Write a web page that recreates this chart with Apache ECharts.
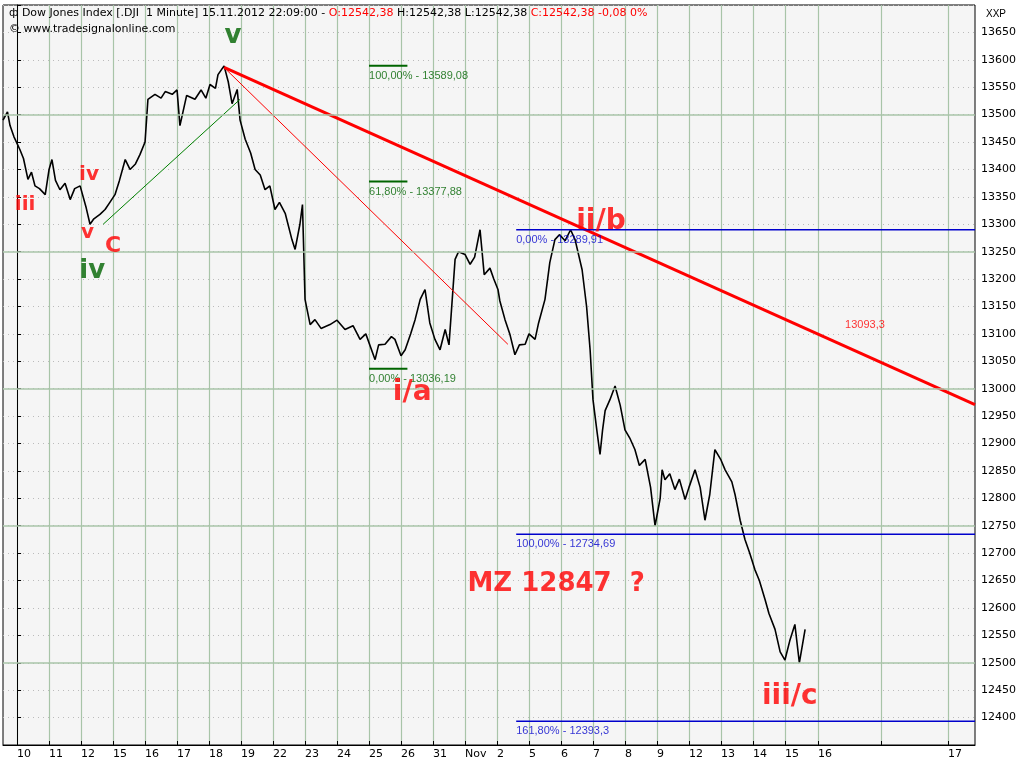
<!DOCTYPE html>
<html>
<head>
<meta charset="utf-8">
<script src="https://cdn.jsdelivr.net/npm/echarts@6/dist/echarts.min.js"></script>
<style>
  html, body { margin: 0; padding: 0; background: #fff; }
  #chart { width: 1024px; height: 768px; }
</style>
</head>
<body>
<div id="chart"></div>
<script>
// Dow Jones 1 Minute, Elliott-Wellen Zählung
// Tagesgrenzen (Tick-Position in Handelstagen) und Beschriftungen
var dayTicks = [0, 1, 2, 3, 4, 5, 6, 7, 8, 9, 10, 11, 12, 13, 14, 15, 16, 17, 18, 19, 20, 21, 22, 23, 24, 25.03, 27.0, 29.1];
var dayLabels = ['10', '11', '12', '15', '16', '17', '18', '19', '22', '23', '24', '25', '26', '31', 'Nov', '2', '5', '6', '7', '8', '9', '12', '13', '14', '15', '16', '', '17'];

// Kursverlauf (Position in Tagen, Kurs)
var pos = [-0.44, -0.3, -0.22, -0.1, 0.09, 0.2, 0.34, 0.45, 0.56, 0.7, 0.88, 1.0, 1.09, 1.2, 1.34, 1.5, 1.66, 1.8, 1.97, 2.16, 2.28, 2.4, 2.59, 2.75, 2.9, 3.06, 3.2, 3.38, 3.53, 3.7, 3.84, 4.0, 4.09, 4.31, 4.5, 4.63, 4.85, 5.0, 5.09, 5.3, 5.56, 5.75, 5.9, 6.03, 6.2, 6.28, 6.47, 6.6, 6.72, 6.88, 6.97, 7.13, 7.3, 7.44, 7.6, 7.75, 7.9, 8.06, 8.2, 8.38, 8.59, 8.69, 8.84, 8.92, 9.00, 9.16, 9.31, 9.5, 9.78, 10.0, 10.25, 10.5, 10.72, 10.9, 11.19, 11.3, 11.50, 11.7, 11.81, 12.0, 12.13, 12.3, 12.44, 12.6, 12.75, 12.9, 13.06, 13.22, 13.38, 13.5, 13.69, 13.8, 14.00, 14.16, 14.3, 14.47, 14.6, 14.78, 14.9, 15.03, 15.09, 15.25, 15.4, 15.56, 15.7, 15.88, 16.0, 16.19, 16.3, 16.50, 16.65, 16.81, 16.95, 17.13, 17.3, 17.44, 17.66, 17.8, 17.91, 18.0, 18.13, 18.22, 18.3, 18.38, 18.53, 18.69, 18.85, 19.00, 19.15, 19.31, 19.45, 19.63, 19.8, 19.94, 20.1, 20.16, 20.25, 20.4, 20.56, 20.7, 20.88, 21.0, 21.19, 21.35, 21.50, 21.65, 21.81, 22.0, 22.13, 22.34, 22.44, 22.6, 22.75, 22.9, 23.06, 23.2, 23.38, 23.5, 23.69, 23.85, 24.00, 24.15, 24.31, 24.45, 24.63, 24.8, 24.94, 25.0, 25.09, 25.16];
var price = [13490, 13505, 13480, 13460, 13436, 13420, 13382, 13395, 13370, 13365, 13354, 13400, 13418, 13380, 13363, 13375, 13345, 13365, 13370, 13330, 13300, 13310, 13318, 13327, 13340, 13354, 13380, 13418, 13400, 13410, 13427, 13450, 13528, 13537, 13530, 13542, 13537, 13545, 13480, 13535, 13528, 13545, 13530, 13555, 13548, 13573, 13589, 13560, 13520, 13546, 13490, 13455, 13430, 13400, 13390, 13363, 13370, 13327, 13340, 13320, 13272, 13254, 13300, 13336, 13163, 13117, 13126, 13110, 13117, 13125, 13108, 13115, 13090, 13100, 13053, 13080, 13081, 13095, 13090, 13060, 13071, 13100, 13126, 13163, 13181, 13120, 13090, 13071, 13108, 13080, 13236, 13250, 13245, 13227, 13240, 13290, 13208, 13220, 13200, 13181, 13160, 13126, 13100, 13062, 13080, 13081, 13100, 13090, 13120, 13163, 13230, 13272, 13281, 13270, 13290, 13272, 13217, 13150, 13071, 12980, 12920, 12880, 12925, 12960, 12980, 13005, 12970, 12925, 12910, 12889, 12860, 12871, 12820, 12750, 12800, 12852, 12834, 12845, 12816, 12835, 12798, 12820, 12852, 12820, 12760, 12807, 12889, 12870, 12852, 12830, 12807, 12760, 12725, 12700, 12670, 12650, 12615, 12590, 12561, 12520, 12505, 12540, 12570, 12500, 12561];
var lastClose = 12542.38;

// Fibonacci-Niveaus
var fibGreen = [13589.08, 13377.88, 13036.19];
var fibGreenText = ['100,00% - 13589,08', '61,80% - 13377,88', '0,00% - 13036,19'];
var fibBlue = [13289.91, 12734.69, 12393.3];
var fibBlueText = ['0,00% - 13289,91', '100,00% - 12734,69', '161,80% - 12393,3'];

// Trendlinien [x1, y1, x2, y2]
var trendMain = [6.47, 13586, 29.94, 12971];
var trendThin = [6.47, 13586, 15.34, 13081];
var trendGreen = [2.69, 13300, 6.97, 13528];

// Wellenbeschriftungen [x, Kurs, Text, Farbe, Größe]
var waves = [
  [0.25, 13336, 'iii', '#f00', 20],
  [2.25, 13391, 'iv', '#f00', 20],
  [2.2, 13285, 'v', '#f00', 20],
  [3.0, 13259, 'C', '#f00', 22],
  [2.35, 13214, 'iv', '#006400', 26],
  [6.75, 13643, 'v', '#006400', 26],
  [18.25, 13305, 'ii/b', '#f00', 28],
  [12.35, 12993, 'i/a', '#f00', 28],
  [24.15, 12438, 'iii/c', '#f00', 28],
  [16.85, 12643, 'MZ 12847  ?', '#f00', 26]
];

var gridLines = [12500, 12750, 13000, 13250, 13500];

var chart = echarts.init(document.getElementById('chart'));

function seg(p, color, w) {
  return {
    type: 'line', data: [[p[0], p[1]], [p[2], p[3]]], symbol: 'none', silent: true,
    lineStyle: { color: color, width: w }, z: 3
  };
}

var series = [];
series.push({
  type: 'line', data: pos.map(function (p, i) { return [p, price[i]]; }), symbol: 'none',
  lineStyle: { color: '#000', width: 1.6 }, z: 2,
  markLine: {
    silent: true, symbol: 'none', label: { show: false },
    lineStyle: { color: '#a8c4a8', type: 'solid', width: 1.5 },
    data: gridLines.map(function (v) { return { yAxis: v }; })
  }
});
series.push(seg(trendThin, '#f00', 1));
series.push(seg(trendGreen, '#008000', 1));
series.push(seg(trendMain, '#f00', 3));

fibGreen.forEach(function (v) {
  series.push({
    type: 'line', data: [[11.0, v], [12.2, v]], symbol: 'none', silent: true,
    lineStyle: { color: '#006400', width: 2 }, z: 4
  });
});
fibBlue.forEach(function (v) {
  series.push({
    type: 'line', data: [[15.6, v], [29.94, v]], symbol: 'none', silent: true,
    lineStyle: { color: '#00c', width: 1.5 }, z: 4
  });
});

var texts = [];
fibGreen.forEach(function (v, i) {
  texts.push({ coord: [11.0, v], text: fibGreenText[i], color: '#006400', size: 11, align: 'left', dy: 10 });
});
fibBlue.forEach(function (v, i) {
  texts.push({ coord: [15.6, v], text: fibBlueText[i], color: '#00c', size: 11, align: 'left', dy: 10 });
});
texts.push({ coord: [26.5, 13116], text: '13093,3', color: '#f00', size: 11, align: 'center', dy: 0 });
waves.forEach(function (w) {
  texts.push({ coord: [w[0], w[1]], text: w[2], color: w[3], size: w[4], align: 'center', dy: 0, bold: true });
});

series.push({
  type: 'scatter', symbolSize: 0, silent: true, z: 6,
  data: texts.map(function (t) {
    return {
      value: t.coord,
      label: {
        show: true, position: 'inside', formatter: t.text, color: t.color,
        fontSize: t.size, fontWeight: t.bold ? 'bold' : 'normal',
        fontFamily: t.bold ? 'DejaVu Sans' : 'Liberation Sans',
        align: t.align, verticalAlign: 'middle', offset: [0, t.dy]
      }
    };
  })
});

chart.setOption({
  animation: false,
  backgroundColor: '#fff',
  title: [
    { text: 'ф Dow Jones Index [.DJI  1 Minute] 15.11.2012 22:09:00 - {r|O:12542,38} H:12542,38 L:12542,38 {r|C:12542,38} {r|-0,08 0%}',
      left: 4, top: 3,
      textStyle: { fontSize: 11, fontWeight: 'normal', color: '#000', fontFamily: 'DejaVu Sans',
        rich: { r: { color: '#f00', fontSize: 11, fontFamily: 'DejaVu Sans' } } } },
    { text: '\u00A9 www.tradesignalonline.com', left: 4, top: 19,
      textStyle: { fontSize: 11, fontWeight: 'normal', color: '#000', fontFamily: 'DejaVu Sans' } },
    { text: 'XXP', left: 981, top: 4, textStyle: { fontSize: 10, fontWeight: 'normal', color: '#000' } }
  ],
  grid: { left: 3, right: 49, top: 5, bottom: 23, show: true, backgroundColor: '#f5f5f5', borderColor: '#000', borderWidth: 1 },
  xAxis: {
    type: 'value', min: -0.44, max: 29.94,
    axisLine: { show: true, lineStyle: { color: '#000' } },
    axisTick: { show: true, customValues: dayTicks, length: 4, inside: true, lineStyle: { color: '#000' } },
    axisLabel: {
      customValues: dayTicks, color: '#000', fontSize: 11, fontFamily: 'DejaVu Sans', align: 'left', margin: 4,
      formatter: function (v) {
        var i = dayTicks.indexOf(v);
        return i >= 0 ? dayLabels[i] : '';
      }
    },
    splitLine: { show: true, lineStyle: { color: '#a8c4a8', width: 1.2 } }
  },
  yAxis: {
    type: 'value', position: 'right', min: 12350, max: 13700, interval: 50,
    axisLine: { show: true, lineStyle: { color: '#000' } },
    axisTick: { show: true, length: 4, lineStyle: { color: '#000' } },
    axisLabel: { color: '#000', fontSize: 11, fontFamily: 'DejaVu Sans', margin: 6,
      formatter: function (v) { return (v === 12350 || v === 13700) ? '' : String(v); } },
    splitLine: { show: true, lineStyle: { color: '#bbb', type: [1, 4], width: 1 } }
  },
  series: series
});
</script>
</body>
</html>
